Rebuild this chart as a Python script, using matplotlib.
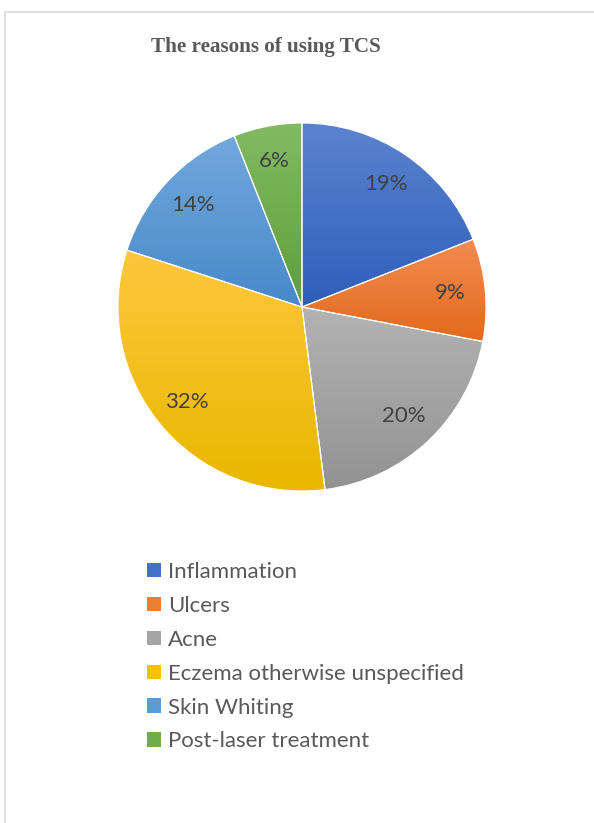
import numpy as np
import matplotlib.pyplot as plt
from matplotlib.colors import LinearSegmentedColormap
from matplotlib.patches import Patch, Rectangle

# Data
labels = ['Inflammation', 'Ulcers', 'Acne', 'Eczema otherwise unspecified',
          'Skin Whiting', 'Post-laser treatment']
values = [19, 9, 20, 32, 14, 6]

# Excel-like gradient colours (top, bottom)
tops = ['#5b83d0', '#f28c52', '#b3b3b3', '#fec73d', '#72a8dc', '#82ba63']
bots = ['#2f5fba', '#e36a1b', '#929292', '#e9b700', '#4889ca', '#5f9f39']
mids = ['#4472c4', '#ed7d31', '#a5a5a5', '#ffc000', '#5b9bd5', '#70ad47']

W, H = 594, 823
fig = plt.figure(figsize=(W / 100, H / 100), dpi=100)

# light border of the chart area
fig.patches.append(Rectangle((5 / W, -0.05), 1.2, 1 - 12 / H + 0.05,
                             transform=fig.transFigure, fill=False,
                             edgecolor='#d9d9d9', linewidth=1.2))

fig.text(266 / W, 1 - 47 / H, 'The reasons of using TCS', ha='center', va='center',
         fontsize=15.2, fontweight='bold', family='Liberation Serif', color='#595959')

# pie axes: center (302, 307) px, radius 184 px
lim = 1.02
R = 184 * lim
ax = fig.add_axes([(302 - R) / W, (H - 307 - R) / H, 2 * R / W, 2 * R / H])

wedges, texts, autotexts = ax.pie(
    values, startangle=90, counterclock=False, autopct='%1.0f%%',
    pctdistance=0.81, radius=1,
    wedgeprops=dict(facecolor='none', edgecolor='white', linewidth=0.8, zorder=3),
    textprops=dict(fontsize=16, family='Lato', color='#404040'))

grad = np.linspace(0, 1, 256).reshape(-1, 1)
for w, t, b in zip(wedges, tops, bots):
    ext = w.get_path().get_extents()
    cmap = LinearSegmentedColormap.from_list('g', [b, t])
    im = ax.imshow(grad, extent=(ext.x0, ext.x1, ext.y0, ext.y1), origin='lower',
                   cmap=cmap, aspect='auto', zorder=2, interpolation='bilinear')
    im.set_clip_path(w)

for a in autotexts:
    a.set_zorder(5)

ax.set_xlim(-lim, lim)
ax.set_ylim(-lim, lim)
ax.set_aspect('equal')
ax.axis('off')

handles = [Patch(facecolor=c, edgecolor='none') for c in mids]
fig.legend(handles, labels, loc='upper left', bbox_to_anchor=(147 / W, 1 - 562 / H),
           frameon=False, borderpad=0, borderaxespad=0,
           prop=dict(family='Lato', size=16), labelcolor='#595959',
           handlelength=0.63, handleheight=0.63, handletextpad=0.3, labelspacing=0.625)

fig.savefig('out.png', dpi=100)
